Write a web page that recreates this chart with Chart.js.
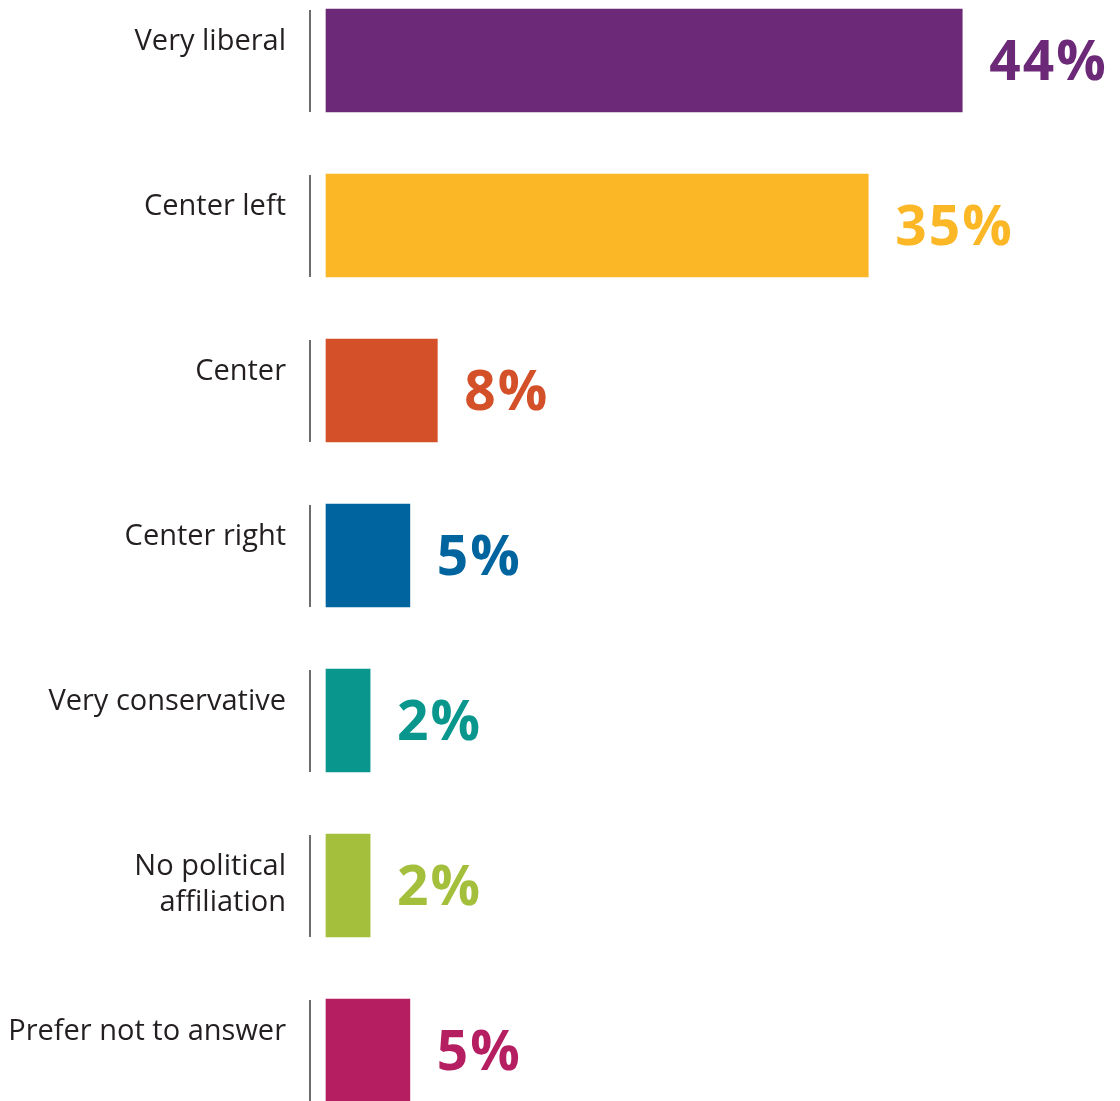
<!DOCTYPE html>
<html>
<head>
<meta charset="utf-8">
<script src="https://cdn.jsdelivr.net/npm/chart.js@4.4.0/dist/chart.umd.min.js"></script>
<style>
  html, body { margin: 0; padding: 0; background: #fff; }
  #wrap { width: 1120px; height: 1101px; }
</style>
</head>
<body>
<div id="wrap"><canvas id="chart" width="1120" height="1101"></canvas></div>
<script>
  // categories (multi-line labels as arrays)
  const categories = [
    ["Very liberal"],
    ["Center left"],
    ["Center"],
    ["Center right"],
    ["Very conservative"],
    ["No political", "affiliation"],
    ["Prefer not to answer"],
  ];

  // bar lengths as drawn in the picture (percent axis)
  const barLengths = [44, 37.5, 7.7, 5.8, 3.05, 3.05, 5.8];

  // printed value labels
  const valueLabels = ["44%", "35%", "8%", "5%", "2%", "2%", "5%"];

  const barColors = [
    "#6b2977",
    "#fbb726",
    "#d45029",
    "#00649e",
    "#09968c",
    "#a4bf3b",
    "#b51f62",
  ];

  const LABEL_FONT = '29px "Open Sans", sans-serif';
  const VALUE_FONT = 'bold 55px "Open Sans", sans-serif';

  // draws the grey separators, category names and value labels
  const annotatePlugin = {
    id: "annotate",
    afterDatasetsDraw: function (chart) {
      const ctx = chart.ctx;
      const meta = chart.getDatasetMeta(0);

      meta.data.forEach((bar, i) => {
        const p = bar.getProps(["x", "y", "base", "height"], true);
        const top = p.y - p.height / 2;
        const bottom = p.y + p.height / 2;

        ctx.save();

        // grey separator line
        ctx.strokeStyle = "#6d6b6c";
        ctx.lineWidth = 2;
        ctx.beginPath();
        ctx.moveTo(310, top + 1);
        ctx.lineTo(310, bottom);
        ctx.stroke();

        // category label
        ctx.fillStyle = "#231f20";
        ctx.font = LABEL_FONT;
        ctx.textAlign = "right";
        ctx.textBaseline = "alphabetic";
        categories[i].forEach((line, j) => {
          ctx.fillText(line, 286, p.y - 11 + j * 36);
        });

        // value label
        ctx.fillStyle = barColors[i];
        ctx.font = VALUE_FONT;
        ctx.letterSpacing = "2px";
        ctx.textAlign = "left";
        ctx.fillText(valueLabels[i], p.x + 27, p.y + 19);

        ctx.restore();
      });
    },
  };

  new Chart(document.getElementById("chart"), {
    type: "bar",
    data: {
      labels: categories.map((c) => c.join(" ")),
      datasets: [
        {
          data: barLengths,
          backgroundColor: barColors,
          borderWidth: 0,
          barThickness: 103,
          clip: false,
        },
      ],
    },
    options: {
      indexAxis: "y",
      responsive: false,
      animation: false,
      layout: {
        padding: { left: 326, right: 71, top: 60.5, bottom: 50.5 },
      },
      plugins: {
        legend: { display: false },
        tooltip: { enabled: false },
      },
      scales: {
        x: { display: false, min: 0, max: 50 },
        y: { display: false, offset: false, grid: { offset: false } },
      },
    },
    plugins: [annotatePlugin],
  });
</script>
</body>
</html>
